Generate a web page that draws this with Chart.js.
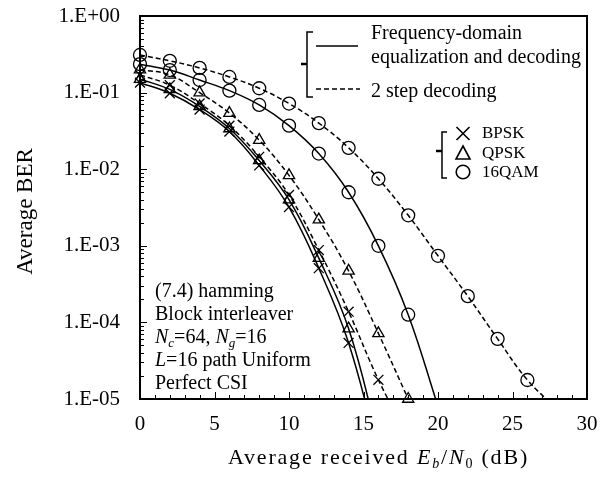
<!DOCTYPE html>
<html><head><meta charset="utf-8">
<script src="https://cdn.jsdelivr.net/npm/chart.js@4.4.0/dist/chart.umd.min.js"></script>
<style>html,body{margin:0;padding:0;background:#fff;}#wrap{width:614px;height:482px;position:relative;}</style>
</head><body><div id="wrap"><canvas id="c" width="614" height="482"></canvas></div>
<script>
// ---- data (Eb/N0 in dB, BER) ----
const ebn0 = [0, 2, 4, 6, 8, 10, 12, 14, 16, 18, 20, 22, 24, 26, 28];
// Frequency-domain equalization and decoding (solid)
const bpskFde = [0.135, 0.098, 0.060, 0.031, 0.0112, 0.0032, 0.00051, 5.4e-5, 2.0e-6];
const qpskFde = [0.150, 0.110, 0.066, 0.034, 0.0130, 0.0040, 0.00069, 8.3e-5, 3.0e-6];
const qamFde  = [0.235, 0.197, 0.146, 0.106, 0.069, 0.037, 0.016, 0.0050, 0.0010, 1.26e-4, 8.0e-6];
// 2 step decoding (dashed)
const bpsk2 = [0.170, 0.125, 0.072, 0.037, 0.0145, 0.0046, 0.00088, 1.38e-4, 1.78e-5, 3.2e-6];
const qpsk2 = [0.200, 0.170, 0.100, 0.054, 0.024, 0.0083, 0.0022, 4.7e-4, 7.2e-5, 1.0e-5];
const qam2  = [0.310, 0.260, 0.210, 0.160, 0.114, 0.072, 0.040, 0.019, 0.0075, 0.0025, 7.4e-4, 2.2e-4, 6.1e-5, 1.77e-5, 7.4e-6];

const yTickValues = [1, 1e-1, 1e-2, 1e-3, 1e-4, 1e-5];
const yTickLabels = ['1.E+00', '1.E-01', '1.E-02', '1.E-03', '1.E-04', '1.E-05'];
const xTickValues = [0, 5, 10, 15, 20, 25, 30];
const Y_MIN = 1e-5, Y_MAX = 1, X_MIN = 0, X_MAX = 30;

const FONT = '"Liberation Serif", "Times New Roman", serif';

function pts(arr) { return arr.map((v, i) => ({ x: ebn0[i], y: v })); }
function lineDs(arr, dashed) {
  return { data: pts(arr), borderColor: '#000', borderWidth: 1.5, borderDash: dashed ? [5, 3] : [],
    pointRadius: 0, tension: 0.4, fill: false };
}
function markDs(arr, style, r) {
  return { data: pts(arr).filter(p => p.y >= Y_MIN), showLine: false, pointStyle: style, pointRadius: r,
    pointBorderColor: '#000', pointBackgroundColor: 'rgba(0,0,0,0)', pointBorderWidth: 1.3, clip: false };
}

function drawRuns(ctx, x, y, parts) {
  for (const p of parts) {
    ctx.font = (p.it ? 'italic ' : '') + p.size + 'px ' + FONT;
    ctx.fillText(p.t, x, y + (p.dy || 0));
    x += ctx.measureText(p.t).width;
  }
  return x;
}

function drawFrame(chart) {
  const ctx = chart.ctx, a = chart.chartArea;
  const xs = chart.scales.x, ys = chart.scales.y;
  ctx.save();
  ctx.fillStyle = '#000';
  const L = Math.round(a.left), R = Math.round(a.right), T = Math.round(a.top), B = Math.round(a.bottom);
  ctx.fillRect(L - 1, T - 1, R - L + 2, 2);
  ctx.fillRect(L - 1, B - 1, R - L + 2, 2);
  ctx.fillRect(L - 1, T - 1, 2, B - T + 2);
  ctx.fillRect(R - 1, T - 1, 2, B - T + 2);
  // inward ticks
  for (let e = -5; e <= -1; e++) {
    for (let m = 1; m <= 9; m++) {
      const yy = Math.round(ys.getPixelForValue(m * Math.pow(10, e)));
      const len = m === 1 ? 7 : 4;
      ctx.fillRect(L, yy, len, 1);
    }
  }
  for (let v = X_MIN; v <= X_MAX; v++) {
    const xx = Math.round(xs.getPixelForValue(v));
    const len = v % 5 === 0 ? 7 : 4;
    ctx.fillRect(xx, B - len, 1, len);
  }
  ctx.restore();
}

const overlay = {
  id: 'overlay',
  afterDraw(chart) {
    const ctx = chart.ctx, a = chart.chartArea;
    drawFrame(chart);
    ctx.save();
    ctx.setLineDash([]);
    ctx.strokeStyle = '#000'; ctx.fillStyle = '#000';

    // axis titles
    ctx.textBaseline = 'alphabetic'; ctx.textAlign = 'left';
    ctx.save();
    ctx.translate(32, (a.top + a.bottom) / 2 + 4);
    ctx.rotate(-Math.PI / 2);
    ctx.font = '23px ' + FONT; ctx.textAlign = 'center';
    ctx.fillText('Average BER', 0, 0);
    ctx.restore();

    try { ctx.letterSpacing = '1.8px'; } catch (e) {}
    drawRuns(ctx, 228, 464, [
      { t: 'Average received ', size: 22 },
      { t: 'E', size: 22, it: true },
      { t: 'b', size: 14, it: true, dy: 4 },
      { t: '/', size: 22 },
      { t: 'N', size: 22, it: true },
      { t: '0', size: 14, dy: 4 },
      { t: ' (dB)', size: 22 }
    ]);
    try { ctx.letterSpacing = '0px'; } catch (e) {}

    // annotation text
    const ax = a.left + 15;
    drawRuns(ctx, ax, 297, [{ t: '(7.4) hamming', size: 20 }]);
    drawRuns(ctx, ax, 320, [{ t: 'Block interleaver', size: 20 }]);
    drawRuns(ctx, ax, 343, [
      { t: 'N', size: 20, it: true }, { t: 'c', size: 13, it: true, dy: 4 },
      { t: '=64, ', size: 20 },
      { t: 'N', size: 20, it: true }, { t: 'g', size: 13, it: true, dy: 4 },
      { t: '=16', size: 20 }
    ]);
    drawRuns(ctx, ax, 366, [{ t: 'L', size: 20, it: true }, { t: '=16 path Uniform', size: 20 }]);
    drawRuns(ctx, ax, 389, [{ t: 'Perfect CSI', size: 20 }]);

    // legend 1 (line styles)
    ctx.lineWidth = 1.5;
    ctx.beginPath();
    ctx.moveTo(313, 32); ctx.lineTo(307, 32); ctx.lineTo(307, 97); ctx.lineTo(313, 97);
    ctx.stroke();
    ctx.lineWidth = 2.5;
    ctx.beginPath(); ctx.moveTo(301, 64); ctx.lineTo(307, 64); ctx.stroke();
    ctx.lineWidth = 1.5;
    ctx.beginPath(); ctx.moveTo(316, 46); ctx.lineTo(358, 46); ctx.stroke();
    ctx.setLineDash([5, 3]);
    ctx.beginPath(); ctx.moveTo(316, 89); ctx.lineTo(360, 89); ctx.stroke();
    ctx.setLineDash([]);
    drawRuns(ctx, 371, 39, [{ t: 'Frequency-domain', size: 20 }]);
    drawRuns(ctx, 371, 63, [{ t: 'equalization and decoding', size: 20 }]);
    drawRuns(ctx, 371, 97, [{ t: '2 step decoding', size: 20 }]);

    // legend 2 (markers)
    ctx.lineWidth = 1.5;
    ctx.beginPath();
    ctx.moveTo(447, 132); ctx.lineTo(442, 132); ctx.lineTo(442, 178); ctx.lineTo(447, 178);
    ctx.stroke();
    ctx.lineWidth = 2.5;
    ctx.beginPath(); ctx.moveTo(436, 151); ctx.lineTo(442, 151); ctx.stroke();
    ctx.lineWidth = 1.6;
    const mx = 463;
    ctx.beginPath();
    ctx.moveTo(mx - 6.5, 127); ctx.lineTo(mx + 6.5, 140);
    ctx.moveTo(mx + 6.5, 127); ctx.lineTo(mx - 6.5, 140);
    ctx.stroke();
    ctx.beginPath();
    ctx.moveTo(mx, 146); ctx.lineTo(mx + 7, 159); ctx.lineTo(mx - 7, 159); ctx.closePath();
    ctx.stroke();
    ctx.beginPath(); ctx.arc(mx, 172, 6.8, 0, Math.PI * 2); ctx.stroke();
    drawRuns(ctx, 482, 138, [{ t: 'BPSK', size: 17 }]);
    drawRuns(ctx, 482, 158, [{ t: 'QPSK', size: 17 }]);
    drawRuns(ctx, 482, 177, [{ t: '16QAM', size: 17 }]);
    ctx.restore();
  }
};

new Chart(document.getElementById('c'), {
  type: 'line',
  data: {
    datasets: [
      lineDs(bpskFde, false), lineDs(qpskFde, false), lineDs(qamFde, false),
      lineDs(bpsk2, true), lineDs(qpsk2, true), lineDs(qam2, true),
      markDs(bpskFde, 'crossRot', 7), markDs(qpskFde, 'triangle', 6.5), markDs(qamFde, 'circle', 6.5),
      markDs(bpsk2, 'crossRot', 7), markDs(qpsk2, 'triangle', 6.5), markDs(qam2, 'circle', 6.5)
    ]
  },
  options: {
    responsive: false, animation: false, devicePixelRatio: 1, events: [],
    layout: { padding: { top: 16, right: 27, left: 0, bottom: 0 } },
    plugins: { legend: { display: false }, tooltip: { enabled: false }, title: { display: false } },
    scales: {
      x: {
        type: 'linear', min: X_MIN, max: X_MAX,
        grid: { display: false, drawTicks: false }, border: { display: false },
        afterBuildTicks: s => { s.ticks = xTickValues.map(v => ({ value: v })); },
        afterFit: s => { s.height = 83; s.paddingLeft = 0; s.paddingRight = 0; },
        ticks: { color: '#000', font: { family: FONT, size: 21 }, padding: 13, maxRotation: 0, autoSkip: false }
      },
      y: {
        type: 'logarithmic', min: Y_MIN, max: Y_MAX,
        grid: { display: false, drawTicks: false }, border: { display: false },
        afterBuildTicks: s => { s.ticks = yTickValues.map(v => ({ value: v, major: true })); },
        afterFit: s => { s.width = 140; s.paddingTop = 0; s.paddingBottom = 0; },
        ticks: { color: '#000', font: { family: FONT, size: 21 }, padding: 20, autoSkip: false,
          callback: v => { const i = yTickValues.indexOf(v); return i >= 0 ? yTickLabels[i] : ''; } }
      }
    }
  },
  plugins: [overlay]
});
</script></body></html>
